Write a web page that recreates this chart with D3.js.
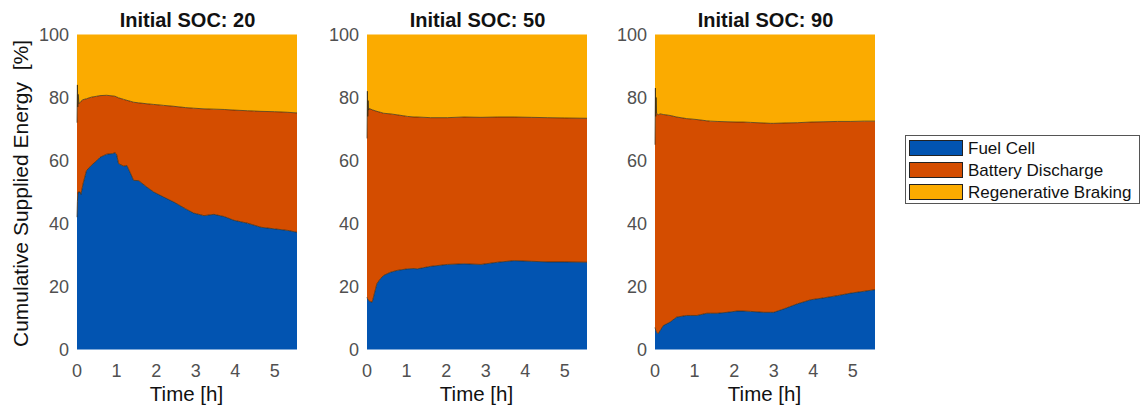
<!DOCTYPE html>
<html>
<head>
<meta charset="utf-8">
<script src="https://cdn.jsdelivr.net/npm/d3@7"></script>
<style>
  html, body { margin: 0; padding: 0; background: #ffffff; }
  svg { display: block; font-family: "Liberation Sans", Arial, Helvetica, sans-serif; }
</style>
</head>
<body>
<svg id="chart" width="1143" height="407"></svg>
<script>
// ---------- DATA ----------
const seriesNames = ["Fuel Cell", "Battery Discharge", "Regenerative Braking"];
const panelTitles = ["Initial SOC: 20", "Initial SOC: 50", "Initial SOC: 90"];
const xTicks = [0, 1, 2, 3, 4, 5];
const yTicks = [0, 20, 40, 60, 80, 100];

// Initial SOC 20
const time20 = [0, 0.01, 0.02, 0.03, 0.05, 0.08, 0.1, 0.15, 0.24, 0.36, 0.5, 0.58, 0.75, 0.9, 0.96, 1.0, 1.05, 1.18, 1.26, 1.35, 1.43, 1.56, 1.77, 1.94, 2.19, 2.45, 2.74, 2.95, 3.21, 3.46, 3.72, 3.97, 4.31, 4.65, 4.99, 5.33, 5.56];
const fuelCell20 = [42, 47, 49, 50, 50, 50, 49.2, 52.5, 56.8, 58.4, 60, 61, 62, 62.2, 62.5, 62, 59, 58.2, 58.4, 56, 53.7, 53.6, 51.5, 50, 48.4, 46.8, 44.7, 43.3, 42.5, 42.9, 42.2, 41, 40.1, 38.8, 38.3, 37.8, 37.2];
const battery20 = [30, 37, 28, 31, 28, 28.5, 29.6, 26.8, 22.8, 21.7, 20.4, 19.6, 18.7, 18.3, 17.9, 18.2, 20.9, 21.2, 20.7, 22.8, 24.8, 24.7, 26.5, 27.8, 29.1, 30.4, 32.1, 33.3, 33.9, 33.4, 34, 35, 35.7, 36.8, 37.2, 37.5, 37.9];

// Initial SOC 50
const time50 = [0, 0.01, 0.02, 0.03, 0.04, 0.06, 0.13, 0.25, 0.34, 0.42, 0.59, 0.76, 1.02, 1.19, 1.27, 1.61, 2.03, 2.45, 2.88, 3.3, 3.72, 4.15, 4.57, 4.99, 5.56];
const fuelCell50 = [16.6, 16.2, 16, 15.8, 15.6, 15.3, 15, 20.9, 22.5, 23.5, 24.5, 25.1, 25.6, 25.7, 25.6, 26.4, 27, 27.2, 27, 27.7, 28.2, 28, 27.8, 27.8, 27.7];
const battery50 = [50.4, 65.8, 58, 63.2, 60.4, 61.2, 61.1, 54.7, 52.8, 51.5, 50.3, 49.4, 48.4, 48.1, 48.2, 47.2, 46.6, 46.6, 46.7, 46.1, 45.6, 45.7, 45.8, 45.7, 45.7];

// Initial SOC 90
const time90 = [0, 0.01, 0.02, 0.03, 0.04, 0.08, 0.13, 0.21, 0.38, 0.55, 0.8, 0.89, 1.06, 1.31, 1.4, 1.57, 1.82, 2.07, 2.24, 2.41, 2.75, 2.92, 3.0, 3.26, 3.6, 3.94, 4.27, 4.61, 4.95, 5.29, 5.56];
const fuelCell90 = [7, 6.5, 6, 5.8, 5.5, 5, 6, 7.6, 8.7, 10.3, 10.8, 10.8, 10.8, 11.5, 11.5, 11.5, 11.8, 12.2, 12.2, 12.1, 11.8, 11.8, 11.8, 12.9, 14.5, 15.8, 16.4, 17.1, 17.9, 18.5, 19];
const battery90 = [58, 76.5, 68, 74.2, 69.5, 69.5, 68.8, 67, 65.6, 63.5, 62.5, 62.4, 62.2, 61.1, 61, 60.9, 60.5, 60, 60, 60, 60.1, 60, 60, 59, 57.5, 56.4, 55.9, 55.3, 54.5, 54, 53.5];

const panelsData = [
  { title: panelTitles[0], time: time20, fc: fuelCell20, bat: battery20 },
  { title: panelTitles[1], time: time50, fc: fuelCell50, bat: battery50 },
  { title: panelTitles[2], time: time90, fc: fuelCell90, bat: battery90 }
];

// ---------- STYLE / LAYOUT ----------
const colors = ["#0254b1", "#d44d00", "#fbab00"];
const plotLefts = [77, 367, 655];
const plotWidth = 220;
const plotTop = 34.5, plotBottom = 349.5;
const xMax = 5.56;

const svg = d3.select("#chart");
const y = d3.scaleLinear().domain([0, 100]).range([plotBottom, plotTop]);

panelsData.forEach((p, i) => {
  const left = plotLefts[i];
  const x = d3.scaleLinear().domain([0, xMax]).range([left, left + plotWidth]);
  const rows = p.time.map((t, k) => ({
    t: t,
    "Fuel Cell": p.fc[k],
    "Battery Discharge": p.bat[k],
    "Regenerative Braking": 100 - p.fc[k] - p.bat[k]
  }));
  const stacked = d3.stack().keys(seriesNames)(rows);
  const g = svg.append("g");

  const area = d3.area()
    .x(d => x(d.data.t))
    .y0(d => y(d[0]))
    .y1(d => y(d[1]));

  g.selectAll("path.area").data(stacked).join("path")
    .attr("class", "area")
    .attr("d", area)
    .attr("fill", (d, j) => colors[j])
    .attr("stroke", "none");

  // dark edges at the stack boundaries
  const edge = d3.line().x(d => x(d.data.t)).y(d => y(d[1]));
  g.selectAll("path.edge").data(stacked.slice(0, 2)).join("path")
    .attr("class", "edge")
    .attr("d", edge)
    .attr("fill", "none")
    .attr("stroke", "#2b2410")
    .attr("stroke-width", 0.8)
    .attr("stroke-opacity", 0.85);

  // y ticks
  g.selectAll("text.ytick").data(yTicks).join("text")
    .attr("class", "ytick")
    .attr("x", left - 8)
    .attr("y", d => y(d) + 6.5)
    .attr("text-anchor", "end")
    .attr("font-size", 18)
    .attr("fill", "#505050")
    .text(d => d);

  // x ticks
  g.selectAll("text.xtick").data(xTicks).join("text")
    .attr("class", "xtick")
    .attr("x", d => x(d))
    .attr("y", 377)
    .attr("text-anchor", "middle")
    .attr("font-size", 18)
    .attr("fill", "#505050")
    .text(d => d);

  // x label
  g.append("text")
    .attr("x", left + plotWidth / 2 - 0.5)
    .attr("y", 401)
    .attr("text-anchor", "middle")
    .attr("font-size", 20.5)
    .attr("fill", "#111")
    .text("Time [h]");

  // title
  g.append("text")
    .attr("x", left + plotWidth / 2 + 0.5)
    .attr("y", 27)
    .attr("text-anchor", "middle")
    .attr("font-size", 20)
    .attr("font-weight", "bold")
    .attr("fill", "#111")
    .text(p.title);
});

// y axis label
svg.append("text")
  .attr("transform", "translate(28," + 193.5 + ") rotate(-90)")
  .attr("text-anchor", "middle")
  .attr("font-size", 21)
  .attr("fill", "#111")
  .attr("xml:space", "preserve")
  .style("white-space", "pre")
  .text("Cumulative Supplied Energy  [%]");

// legend
const lg = svg.append("g");
lg.append("rect")
  .attr("x", 905.5).attr("y", 135.5)
  .attr("width", 234).attr("height", 68)
  .attr("fill", "#fff")
  .attr("stroke", "#555")
  .attr("stroke-width", 1);
const rowY = [148, 170, 192];
seriesNames.forEach((name, j) => {
  lg.append("rect")
    .attr("x", 909.5).attr("y", rowY[j] - 7.5)
    .attr("width", 53).attr("height", 15)
    .attr("fill", colors[j])
    .attr("stroke", "#222")
    .attr("stroke-width", 1);
  lg.append("text")
    .attr("x", 968)
    .attr("y", rowY[j] + 6)
    .attr("font-size", 17)
    .attr("fill", "#111")
    .text(name);
});
</script>
</body>
</html>
